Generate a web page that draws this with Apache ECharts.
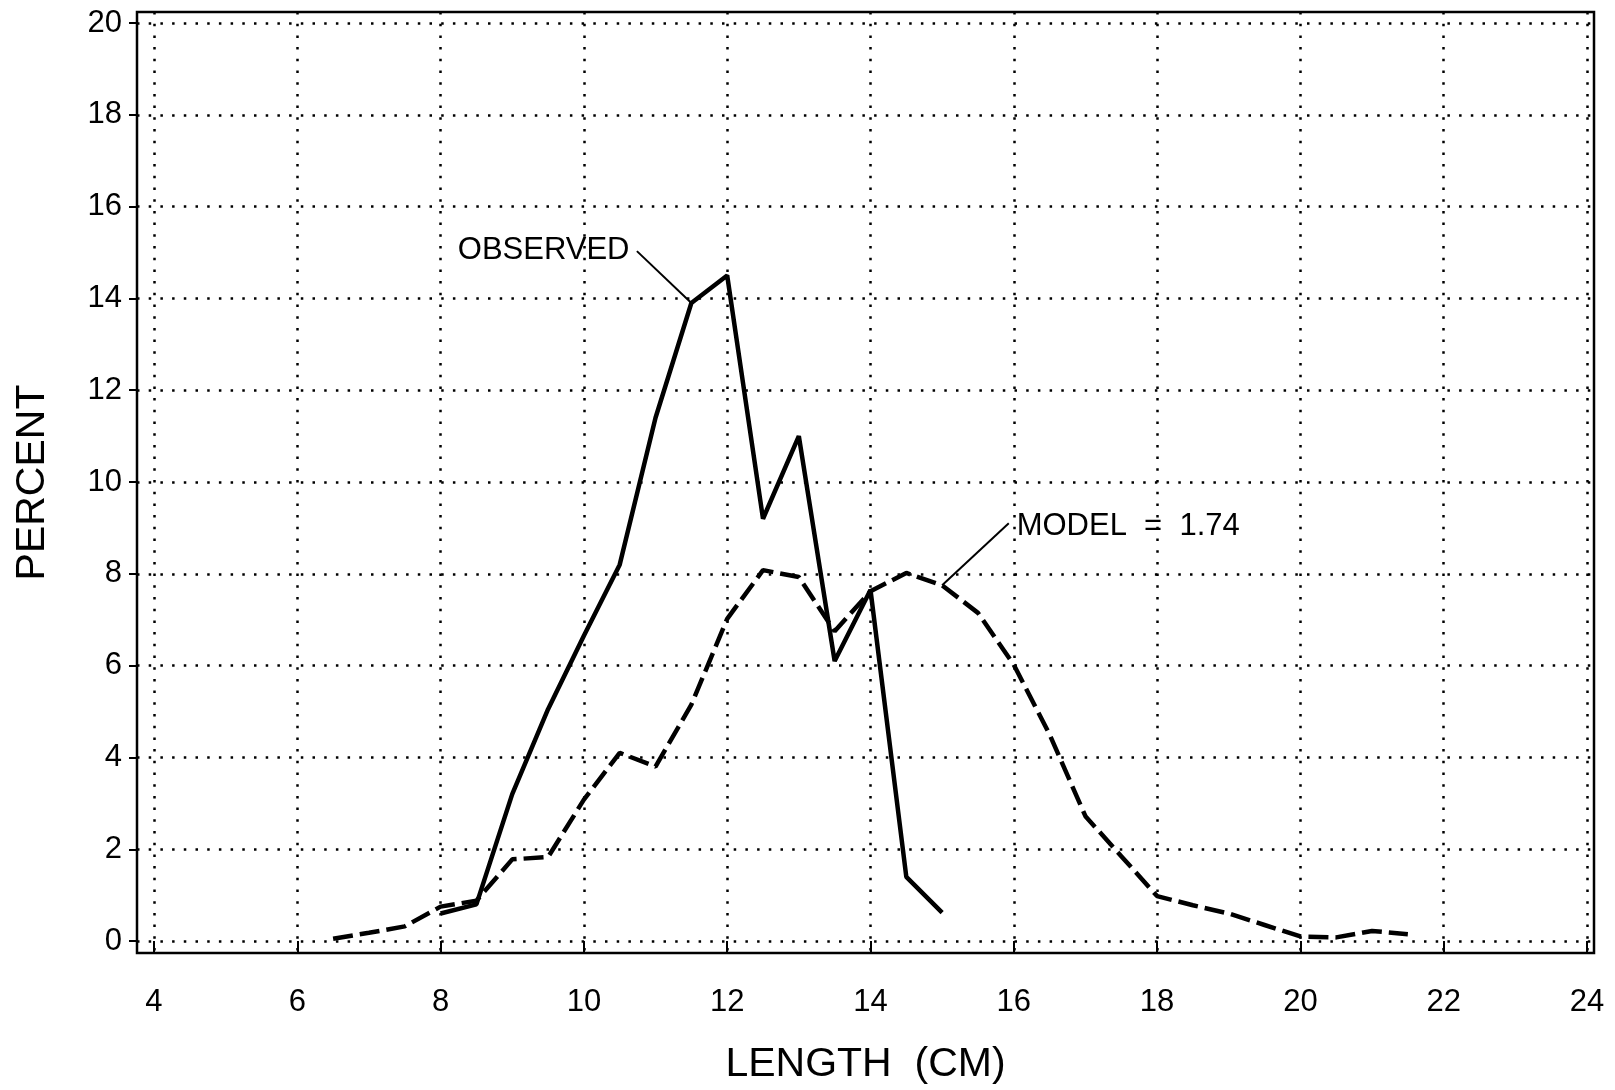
<!DOCTYPE html>
<html><head><meta charset="utf-8">
<script src="https://cdn.jsdelivr.net/npm/echarts@6/dist/echarts.min.js"></script>
<style>html,body{margin:0;padding:0;background:#fff}#c{width:1615px;height:1090px}</style>
</head><body><div id="c"></div>
<script>
// ---- data ----
const observedX = [8, 8.5, 9, 9.5, 10, 10.5, 11, 11.5, 12, 12.5, 13, 13.5, 14, 14.5, 15];
const observedY = [0.6, 0.8, 3.2, 5.05, 6.65, 8.2, 11.4, 13.9, 14.5, 9.2, 11.0, 6.1, 7.65, 1.4, 0.62];
const modelX = [6.5, 7, 7.5, 8, 8.5, 9, 9.5, 10, 10.5, 11, 11.5, 12, 12.5, 13, 13.5, 14, 14.5, 15, 15.5, 16, 16.5, 17, 17.5, 18, 18.5, 19, 19.5, 20, 20.5, 21, 21.5];
const modelY = [0.05, 0.18, 0.32, 0.75, 0.88, 1.78, 1.83, 3.08, 4.1, 3.8, 5.15, 7.02, 8.08, 7.93, 6.75, 7.62, 8.02, 7.75, 7.15, 6.02, 4.5, 2.72, 1.85, 0.98, 0.78, 0.6, 0.35, 0.1, 0.08, 0.22, 0.15];
const xTicks = [4, 6, 8, 10, 12, 14, 16, 18, 20, 22, 24];
const yTicks = [0, 2, 4, 6, 8, 10, 12, 14, 16, 18, 20];
const xTitle = 'LENGTH  (CM)';
const yTitle = 'PERCENT';
const obsLabel = 'OBSERVED';
const modelLabel = 'MODEL  =  1.74';

// annotation anchors (data space)
const obsTextAt = [8.24, 15.05];
const obsLeaderFrom = [10.74, 15.03];
const obsLeaderTo = [11.5, 13.9];
const modelTextAt = [16.04, 9.03];
const modelLeaderFrom = [15.93, 9.1];
const modelLeaderTo = [15, 7.75];

const FONT = '"Liberation Sans", Arial, sans-serif';
const zip = (xs, ys) => xs.map((x, i) => [x, ys[i]]);
const dotted = { color: '#000', width: 2.5, type: [2.5, 9.2] };

const chart = echarts.init(document.getElementById('c'));
chart.setOption({
  backgroundColor: '#fff',
  animation: false,
  grid: { left: 137, top: 12, width: 1457, height: 944, show: true, borderColor: '#000', borderWidth: 2.5, backgroundColor: 'transparent' },
  xAxis: {
    type: 'value', min: 3.763, max: 24.098,
    axisLine: { show: false },
    axisTick: { show: true, length: 12, lineStyle: { color: '#000', width: 2 }, customValues: xTicks },
    axisLabel: { color: '#000', fontSize: 31, fontFamily: FONT, margin: 34, customValues: xTicks },
    splitLine: { show: true, lineStyle: dotted },
    name: xTitle, nameLocation: 'middle', nameGap: 91,
    nameTextStyle: { color: '#000', fontSize: 41, fontFamily: FONT }
  },
  yAxis: {
    type: 'value', min: -0.26, max: 20.239,
    axisLine: { show: false },
    axisTick: { show: true, length: 8, lineStyle: { color: '#000', width: 2 }, customValues: yTicks },
    axisLabel: { color: '#000', fontSize: 31, fontFamily: FONT, margin: 15, customValues: yTicks },
    splitLine: { show: true, lineStyle: dotted },
    name: yTitle, nameLocation: 'middle', nameGap: 84, nameRotate: 90,
    nameTextStyle: { color: '#000', fontSize: 41, fontFamily: FONT }
  },
  series: [
    { name: 'Observed', type: 'line', data: zip(observedX, observedY), symbol: 'none',
      lineStyle: { color: '#000', width: 4.5, type: 'solid' }, z: 3 },
    { name: 'Model', type: 'line', data: zip(modelX, modelY), symbol: 'none',
      lineStyle: { color: '#000', width: 4.5, type: [20, 7] }, z: 3 }
  ]
});

const px = p => chart.convertToPixel({ gridIndex: 0 }, p);
function leader(a, b) {
  const p = px(a), q = px(b);
  return { type: 'line', shape: { x1: p[0], y1: p[1], x2: q[0], y2: q[1] }, style: { stroke: '#000', lineWidth: 2 }, z: 10 };
}
function label(text, at) {
  const p = px(at);
  return { type: 'text', x: p[0], y: p[1], style: { text, fill: '#000', fontSize: 31, fontFamily: FONT, align: 'left', verticalAlign: 'middle' }, z: 10 };
}
chart.setOption({
  graphic: [
    label(obsLabel, obsTextAt), leader(obsLeaderFrom, obsLeaderTo),
    label(modelLabel, modelTextAt), leader(modelLeaderFrom, modelLeaderTo)
  ]
});
</script></body></html>
